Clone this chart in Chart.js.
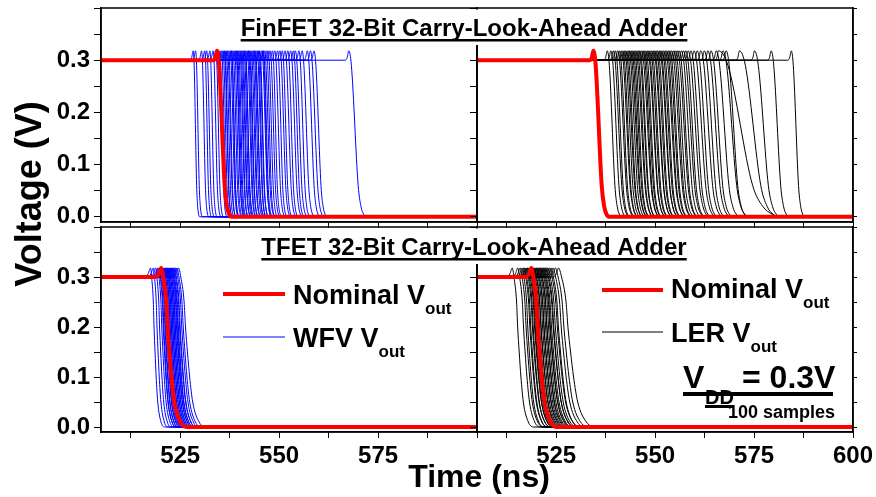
<!DOCTYPE html>
<html>
<head>
<meta charset="utf-8">
<script src="https://cdn.jsdelivr.net/npm/chart.js@4.4.0/dist/chart.umd.min.js"></script>
<style>
  body { margin: 0; background: #fff; }
  #wrap { position: relative; width: 876px; height: 497px; }
  #wrap canvas { position: absolute; left: 0; top: 0; }
</style>
</head>
<body>
<div id="wrap">
  <canvas id="finWfv" width="876" height="497"></canvas>
  <canvas id="finLer" width="876" height="497"></canvas>
  <canvas id="tfetWfv" width="876" height="497"></canvas>
  <canvas id="tfetLer" width="876" height="497"></canvas>
</div>
<script>
// axis ranges and labelled ticks
const xMin = 505, xMax = 600;
const yMin = -0.01, yMax = 0.40;
const xTickLabels = [525, 550, 575, 600];
const yTickLabels = [0.0, 0.1, 0.2, 0.3];

// waveform shape
// pre: [ns before the overshoot peak, V]; fall: [fraction of fall time, V]
const finPre = [[-0.9, 0.3], [-0.4, 0.305], [0, 0.318]];
const finFall = [[0.15, 0.29], [0.54, 0.06], [0.7, 0.02], [0.85, 0.005], [1, 0]];
const tfetPre = [[-1.4, 0.3], [-0.6, 0.306], [0, 0.318]];
const tfetFall = [[0.08, 0.3], [0.2, 0.25], [0.25, 0.2], [0.32, 0.15], [0.4, 0.1], [0.51, 0.05], [0.74, 0.01], [1, 0]];

// nominal traces: [peak time ns, fall time ns]
const finNominalWfv = [534.3, 3.6];
const finNominalLer = [534.4, 3.9];
const tfetNominalWfv = [520.2, 6.5];
const tfetNominalLer = [518.7, 6.6];

// variation samples: [peak time ns, fall time ns]
const finWfvSamples = [
  [528.3,1.6],[528.9,1.7],[530.4,1.8],[531.2,1.7],[531.7,1.9],[532.5,1.8],[533.3,2.0],[534.0,1.9],
  [535.0,1.8],[535.4,2.0],[535.8,1.9],[536.1,2.1],[536.3,1.8],[536.6,2.0],[536.9,2.2],[537.2,1.9],
  [537.6,2.1],[537.9,2.0],[538.0,1.8],[538.3,2.2],[538.7,2.0],[539.0,2.3],[539.2,1.9],[539.4,2.1],
  [539.7,2.0],[540.0,2.2],[540.3,1.9],[540.5,2.3],[540.8,2.0],[541.1,2.1],[541.3,2.4],[541.5,1.9],
  [541.9,2.2],[542.2,2.0],[542.4,2.3],[542.6,2.1],[542.9,2.4],[543.3,2.0],[543.6,2.2],[543.8,2.5],
  [544.0,2.1],[544.4,2.3],[544.7,2.0],[544.9,2.4],[545.1,2.2],[545.6,2.5],[545.9,2.1],[546.0,2.3],
  [546.3,2.6],[546.8,2.2],[547.2,2.4],[547.7,2.5],[548.3,2.3],[548.9,2.6],[549.6,2.4],[550.2,2.7],
  [550.8,2.5],[551.5,2.8],[552.2,2.6],[552.9,2.9],[553.6,2.7],[554.1,3.0],[555.0,2.8],[555.8,3.1],
  [557.1,3.2],[557.9,3.4],[558.8,3.3],[567.6,4.4]
];
const finLerSamples = [
  [537.9,3.6],[538.8,3.8],[539.4,4.0],[539.9,3.7],[540.5,4.1],[540.9,3.9],[541.4,4.2],[541.8,3.8],
  [542.2,4.0],[542.5,4.3],[542.9,3.9],[543.3,4.1],[543.6,4.4],[544.0,4.0],[544.3,4.2],[544.7,3.9],
  [545.0,4.5],[545.4,4.1],[545.8,4.3],[546.1,4.0],[546.5,4.6],[546.9,4.2],[547.2,4.4],[547.6,4.1],
  [548.0,4.7],[548.3,4.3],[548.7,4.5],[549.1,4.2],[549.5,4.8],[549.8,4.4],[550.2,4.6],[550.6,4.3],
  [551.0,4.9],[551.3,4.5],[551.7,4.7],[552.1,4.4],[552.5,5.0],[552.9,4.6],[553.3,4.8],[553.7,4.5],
  [554.1,5.1],[554.6,4.7],[555.0,4.9],[555.5,5.2],[556.0,4.8],[556.6,5.0],[557.1,5.3],[557.7,4.9],
  [558.3,5.4],[559.0,5.1],[559.8,5.5],[560.6,5.2],[561.5,5.6],[562.4,5.3],[563.3,5.7],[564.1,5.5],
  [565.4,6.0],[566.0,16.0],[567.1,6.5],[567.9,5.5],[571.3,10.0],[575.1,6.5],[579.3,4.5],[584.4,3.4]
];
const tfetWfvSamples = [
  [517.5,3.6],[518.2,3.8],[518.8,4.0],[519.3,4.2],[519.6,4.5],[519.8,4.3],[520.0,4.6],[520.2,4.4],
  [520.4,4.8],[520.5,4.5],[520.7,4.7],[520.9,4.9],[521.0,4.6],[521.2,5.0],[521.3,4.8],[521.5,5.1],
  [521.6,4.9],[521.8,5.2],[521.9,5.0],[522.1,5.3],[522.2,5.1],[522.4,5.4],[522.5,5.2],[522.7,5.5],
  [522.9,5.3],[523.0,5.6],[523.2,5.4],[523.4,5.8],[523.6,5.6],[523.9,6.0],[524.2,6.3],[524.6,7.0]
];
const tfetLerSamples = [
  [513.9,5.5],[515.3,5.8],[515.9,6.0],[516.4,5.7],[516.8,6.2],[517.1,5.9],[517.4,6.4],[517.7,6.0],
  [517.9,6.6],[518.2,6.1],[518.4,6.3],[518.7,6.8],[518.9,6.2],[519.2,6.5],[519.4,7.0],[519.6,6.4],
  [519.9,6.7],[520.1,7.2],[520.3,6.6],[520.6,6.9],[520.8,7.4],[521.0,6.8],[521.3,7.1],[521.5,7.6],
  [521.8,7.0],[522.0,7.3],[522.3,7.8],[522.6,7.2],[522.9,7.6],[523.3,8.0],[523.7,7.5],[524.2,8.3],
  [524.8,8.6],[525.6,9.5]
];

const FONT = 'Arial, "Liberation Sans", sans-serif';
const W = 876, H = 497;

function wave(sample, pre, fall) {
  const peak = sample[0], dur = sample[1];
  const pts = [{ x: xMin, y: 0.3 }];
  pre.forEach(p => pts.push({ x: peak + p[0], y: p[1] }));
  fall.forEach(p => pts.push({ x: peak + p[0] * dur, y: p[1] }));
  pts.push({ x: xMax, y: 0 });
  return pts;
}

function zeroPad(s) {
  s.paddingLeft = 0; s.paddingRight = 0; s.paddingTop = 0; s.paddingBottom = 0;
}

// box round each plot
const frame = {
  id: 'frame',
  afterDraw(chart) {
    const a = chart.chartArea, ctx = chart.ctx;
    ctx.save();
    ctx.strokeStyle = '#000';
    ctx.lineWidth = 1.5;
    ctx.strokeRect(a.left, a.top, a.right - a.left, a.bottom - a.top);
    ctx.restore();
  }
};

function panel(id, cfg) {
  const a = cfg.area;
  const yW = cfg.yLabels ? 90 : 8;
  const xH = cfg.xLabels ? 40 : 8;
  const mirrorW = cfg.mirror ? 5 : 0;

  const datasets = [{
    data: wave(cfg.nominal, cfg.pre, cfg.fall),
    borderColor: '#ff0000',
    borderWidth: 4
  }];
  cfg.samples.forEach(s => datasets.push({
    data: wave(s, cfg.pre, cfg.fall),
    borderColor: cfg.color,
    borderWidth: 1
  }));

  const scales = {
    x: {
      type: 'linear', min: xMin, max: xMax,
      afterFit: s => { s.height = xH; zeroPad(s); },
      ticks: {
        stepSize: 12.5, includeBounds: false, autoSkip: false, maxRotation: 0, padding: 4,
        color: '#000', font: { family: FONT, size: 24, weight: 'bold' },
        callback: v => (cfg.xLabels && xTickLabels.includes(v) && (cfg.x600 || v < 600)) ? String(v) : ''
      },
      grid: { drawOnChartArea: false, tickLength: 6, color: '#000', lineWidth: 1 },
      border: { color: '#000', width: 1.5 }
    },
    y: {
      type: 'linear', min: yMin, max: yMax,
      afterFit: s => { s.width = yW; zeroPad(s); },
      ticks: {
        stepSize: 0.05, includeBounds: false, autoSkip: false, padding: 4,
        color: '#000', font: { family: FONT, size: 24, weight: 'bold' },
        callback: v => {
          const r = Math.round(v * 10) / 10;
          return (cfg.yLabels && Math.abs(v - r) < 1e-6 && yTickLabels.includes(r)) ? r.toFixed(1) : '';
        }
      },
      grid: { drawOnChartArea: false, tickLength: 7, color: '#000', lineWidth: 1 },
      border: { color: '#000', width: 1.5 }
    }
  };
  if (cfg.mirror) {
    scales.y2 = {
      type: 'linear', position: 'right', min: yMin, max: yMax,
      afterFit: s => { s.width = mirrorW; zeroPad(s); },
      ticks: { stepSize: 0.05, includeBounds: false, autoSkip: false, callback: () => '' },
      grid: { drawOnChartArea: false, tickLength: 4, color: '#000', lineWidth: 1 },
      border: { color: '#000', width: 1.5 }
    };
  }

  return new Chart(document.getElementById(id), {
    type: 'line',
    data: { datasets },
    options: {
      responsive: false, animation: false, events: [],
      layout: {
        padding: { left: a.left - yW, top: a.top, right: W - a.right - mirrorW, bottom: H - a.bottom - xH }
      },
      plugins: { legend: { display: false }, tooltip: { enabled: false } },
      elements: { point: { radius: 0 }, line: { cubicInterpolationMode: 'monotone' } },
      scales
    },
    plugins: [frame].concat(cfg.extra || [])
  });
}

// underlined title on a white patch that hides the panel divider
function underlined(ctx, text, cx, y, size, patchTop) {
  ctx.font = 'bold ' + size + 'px ' + FONT;
  const w = ctx.measureText(text).width;
  const x0 = cx - w / 2;
  ctx.fillStyle = '#fff';
  ctx.fillRect(x0 - 4, patchTop, w + 8, y + 9 - patchTop);
  ctx.fillStyle = '#000';
  ctx.textAlign = 'left';
  ctx.fillText(text, x0, y);
  ctx.fillRect(x0, y + 3, w, 2.5);
}

function withSub(ctx, main, sub, x, y, size, subSize, drop) {
  ctx.textAlign = 'left';
  ctx.font = 'bold ' + size + 'px ' + FONT;
  ctx.fillText(main, x, y);
  const w = ctx.measureText(main).width;
  ctx.font = 'bold ' + subSize + 'px ' + FONT;
  ctx.fillText(sub, x + w, y + drop);
}

function seg(ctx, x1, x2, y, color, width) {
  ctx.strokeStyle = color;
  ctx.lineWidth = width;
  ctx.beginPath();
  ctx.moveTo(x1, y);
  ctx.lineTo(x2, y);
  ctx.stroke();
}

// titles, legends and axis titles, in page pixels
const notes = {
  id: 'notes',
  afterDraw(chart) {
    const ctx = chart.ctx;
    ctx.save();
    ctx.fillStyle = '#000';
    ctx.textBaseline = 'alphabetic';

    underlined(ctx, 'FinFET 32-Bit Carry-Look-Ahead Adder', 464, 36, 24, 9.5);
    underlined(ctx, 'TFET 32-Bit Carry-Look-Ahead Adder', 474, 255, 24, 228.5);

    // legend, lower left
    seg(ctx, 223, 285, 294, '#ff0000', 4);
    withSub(ctx, 'Nominal V', 'out', 293, 304, 27, 17, 10);
    seg(ctx, 223, 285, 337, '#0000ff', 1);
    withSub(ctx, 'WFV V', 'out', 293, 347, 27, 17, 10);

    // legend, lower right
    seg(ctx, 602, 663, 290, '#ff0000', 4);
    withSub(ctx, 'Nominal V', 'out', 671, 298, 27, 17, 10);
    seg(ctx, 602, 663, 332, '#555555', 1.5);
    withSub(ctx, 'LER V', 'out', 671, 342, 27, 17, 10);

    // supply note
    ctx.font = 'bold 32px ' + FONT;
    ctx.textAlign = 'left';
    ctx.fillText('V', 683, 388);
    ctx.fillText('= 0.3V', 742, 388);
    ctx.font = 'bold 20px ' + FONT;
    ctx.fillText('DD', 705, 404);
    ctx.fillRect(683, 392, 150, 4);
    ctx.fillRect(705, 405, 28, 3);
    ctx.font = 'bold 18px ' + FONT;
    ctx.fillText('100 samples', 728, 418);

    // axis titles
    ctx.font = 'bold 32px ' + FONT;
    ctx.textAlign = 'center';
    ctx.fillText('Time (ns)', 479, 487);
    ctx.font = 'bold 36px ' + FONT;
    ctx.translate(41, 194);
    ctx.rotate(-Math.PI / 2);
    ctx.fillText('Voltage (V)', 0, 0);
    ctx.restore();
  }
};

panel('finWfv', {
  area: { left: 101, top: 8, right: 477, bottom: 222 },
  yLabels: true, xLabels: false,
  nominal: finNominalWfv, samples: finWfvSamples, color: '#0000ff',
  pre: finPre, fall: finFall
});
panel('finLer', {
  area: { left: 477, top: 8, right: 853, bottom: 222 },
  yLabels: false, xLabels: false, mirror: true,
  nominal: finNominalLer, samples: finLerSamples, color: '#000000',
  pre: finPre, fall: finFall
});
panel('tfetWfv', {
  area: { left: 101, top: 227, right: 477, bottom: 432 },
  yLabels: true, xLabels: true,
  nominal: tfetNominalWfv, samples: tfetWfvSamples, color: '#0000ff',
  pre: tfetPre, fall: tfetFall
});
panel('tfetLer', {
  area: { left: 477, top: 227, right: 853, bottom: 432 },
  yLabels: false, xLabels: true, x600: true, mirror: true,
  nominal: tfetNominalLer, samples: tfetLerSamples, color: '#000000',
  pre: tfetPre, fall: tfetFall,
  extra: [notes]
});
</script>
</body>
</html>
